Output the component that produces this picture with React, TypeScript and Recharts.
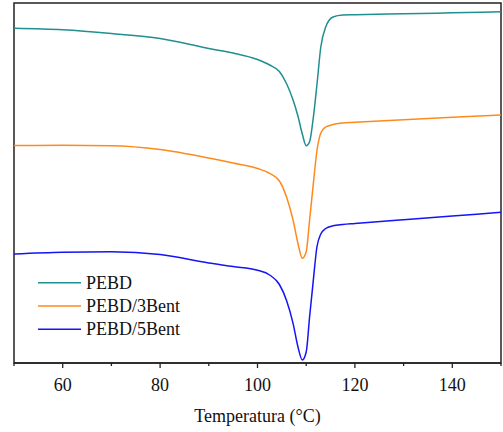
import { LineChart, Line, XAxis, YAxis, Legend, ReferenceArea } from 'recharts';

// temperature grid (°C)
const temps = [
  50, 60, 70, 80, 90, 95, 100, 102.5, 104.5, 106, 107.3, 108.3, 109.2, 110,
  110.7, 111.4, 112.2, 113, 114, 115.5, 117.5, 120, 130, 140, 150,
];

// heat flow, arbitrary units (curves offset vertically)
const pebd = [
  33.47, 33.32, 32.95, 32.45, 31.45, 31.0, 30.35, 29.8, 29.15, 27.9, 26.3, 24.7,
  22.9, 21.73, 22.13, 24.3, 27.8, 31.6, 33.6, 34.6, 34.8, 34.83, 34.92, 35.02, 35.13,
];
const pebd3 = [
  21.75, 21.77, 21.73, 21.35, 20.5, 20.0, 19.45, 18.97, 18.2, 16.55, 14.3, 11.97,
  10.47, 11.13, 14.3, 17.63, 21.2, 23.0, 23.6, 23.85, 24.0, 24.07, 24.33, 24.57, 24.8,
];
const pebd5 = [
  10.9, 11.07, 11.13, 10.85, 10.0, 9.65, 9.27, 8.8, 7.85, 6.2, 3.97, 1.63,
  0.3, 1.1, 4.63, 7.97, 11.6, 12.9, 13.45, 13.72, 13.85, 13.95, 14.33, 14.7, 15.07,
];

const xTicks = [50, 60, 70, 80, 90, 100, 110, 120, 130, 140, 150];

const data = temps.map((t, i) => ({ t, pebd: pebd[i], pebd3: pebd3[i], pebd5: pebd5[i] }));

const FONT = '"Liberation Serif", "Times New Roman", serif';

const TempTick = (props: any) => {
  const { x, y, payload } = props;
  const major = payload.value % 20 === 0;
  const showLabel = major && payload.value > 50 && payload.value < 150;
  return (
    <g>
      <line x1={x} x2={x} y1={y} y2={y + (major ? 5 : 3)} stroke="#222" strokeWidth={1.3} />
      {showLabel && (
        <text x={x} y={y + 27.5} textAnchor="middle" fontFamily={FONT} fontSize={18} fill="#111">
          {payload.value}
        </text>
      )}
    </g>
  );
};

const AxisTitle = (props: any) => {
  const { viewBox } = props;
  return (
    <text
      x={viewBox.x + viewBox.width / 2}
      y={viewBox.y + 58.5}
      textAnchor="middle"
      fontFamily={FONT}
      fontSize={18}
      fill="#111"
    >
      Temperatura (°C)
    </text>
  );
};

const LegendBox = (props: any) => {
  const { payload } = props;
  return (
    <svg width={200} height={72} style={{ display: 'block' }}>
      {payload.map((p: any, i: number) => (
        <g key={p.value}>
          <line x1={0} x2={43} y1={12.7 + i * 23.3} y2={12.7 + i * 23.3} stroke={p.color} strokeWidth={1.6} />
          <text x={48} y={18.5 + i * 23.3} fontFamily={FONT} fontSize={18} fill="#111">
            {p.value}
          </text>
        </g>
      ))}
    </svg>
  );
};

const App = () => {
  return (
    <div style={{ position: 'absolute', left: 0, top: 0 }}>
      <LineChart width={503} height={432} data={data} margin={{ top: 3, right: 2, bottom: 0, left: 14 }}>
        <XAxis
          dataKey="t"
          type="number"
          domain={[50, 150]}
          ticks={xTicks}
          interval={0}
          tickLine={false}
          tickSize={0}
          tickMargin={0}
          tick={<TempTick />}
          height={69}
          axisLine={{ stroke: '#222', strokeWidth: 1.5 }}
          label={<AxisTitle />}
        />
        <YAxis type="number" domain={[0, 36]} hide />
        <ReferenceArea x1={50} x2={150} y1={0} y2={36} fill="none" stroke="#222" strokeWidth={1.5} />
        <Line type="monotone" dataKey="pebd" name="PEBD" stroke="#1f8f8f" strokeWidth={1.5} dot={false} isAnimationActive={false} />
        <Line type="monotone" dataKey="pebd3" name="PEBD/3Bent" stroke="#ff8a1c" strokeWidth={1.5} dot={false} isAnimationActive={false} />
        <Line type="monotone" dataKey="pebd5" name="PEBD/5Bent" stroke="#1414f5" strokeWidth={1.5} dot={false} isAnimationActive={false} />
        <Legend
          layout="vertical"
          align="center"
          verticalAlign="middle"
          content={<LegendBox />}
          wrapperStyle={{ left: 38, top: 270, width: 200 }}
        />
      </LineChart>
    </div>
  );
};

export default App;
